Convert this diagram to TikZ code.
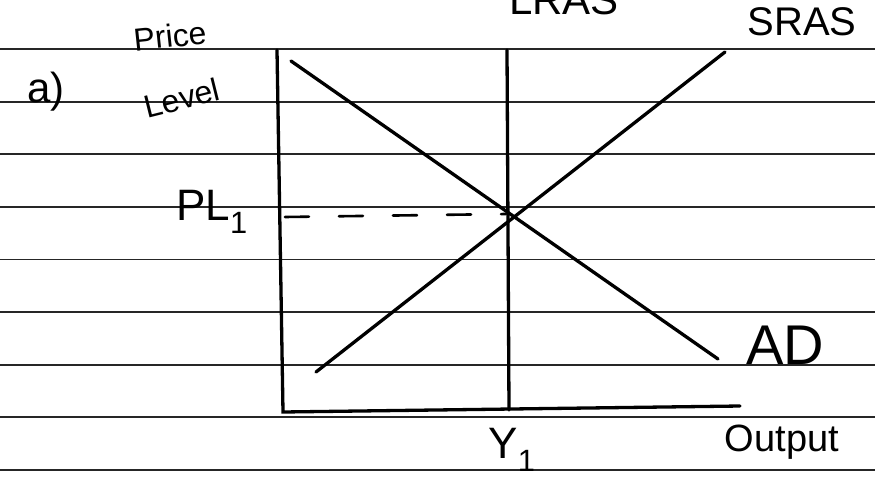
\documentclass[tikz,border=0pt]{standalone}
\usepackage{fontspec}
\setmainfont{Liberation Sans}
\begin{document}
\begin{tikzpicture}[x=1pt,y=-1pt,
  rule/.style={line width=1.8pt,black!85},
  pen/.style={line width=3.3pt,line cap=round,black},
  lbl/.style={inner sep=0pt,font=#1},
  lbl/.default=\fontsize{30}{30}\selectfont]
\useasboundingbox (0,0) rectangle (875,498);
\fill[white] (0,0) rectangle (875,498);
\clip (0,0) rectangle (875,498);
% ruled paper lines
\foreach \yy in {49,101.6,154.2,206.8,259.4,312,364.6,417.2,469.8}
  \draw[rule] (0,\yy) -- (875,\yy);
% named points
\coordinate (ytop) at (277,50);
\coordinate (origin) at (283,412);
\coordinate (xend) at (740,406);
\coordinate (lrastop) at (507,50);
\coordinate (lrasbot) at (509,410);
\coordinate (srasbot) at (316,372);
\coordinate (srastop) at (725,52);
\coordinate (adtop) at (291,61);
\coordinate (adbot) at (718,359);
\coordinate (pla) at (285,217);
\coordinate (plb) at (506,214);
% axes
\draw[pen] (ytop) -- (origin) -- (xend);
% LRAS
\draw[pen] (lrastop) -- (lrasbot);
% curves
\draw[pen] (srasbot) -- (srastop);
\draw[pen] (adtop) -- (adbot);
% dashed price level
\draw[pen,line width=2.6pt,dash pattern=on 24pt off 30pt] (pla) -- (plb);
% labels
\node[lbl={\fontsize{42}{42}\selectfont}] (a) at (46,92) {a)};
\node[lbl={\fontsize{32}{32}\selectfont},rotate=6] (price) at (170,36) {Price};
\node[lbl={\fontsize{32}{32}\selectfont},rotate=14] (level) at (182,98) {Level};
\node[lbl={\fontsize{44}{44}\selectfont}] (pl) at (212,212) {PL$_{\mathrm{1}}$};
\node[lbl={\fontsize{42}{42}\selectfont}] (lras) at (564,0) {LRAS};
\node[lbl={\fontsize{40}{40}\selectfont}] (sras) at (802,22) {SRAS};
\node[lbl={\fontsize{56}{56}\selectfont}] (ad) at (785,345) {AD};
\node[lbl={\fontsize{44}{44}\selectfont}] (y) at (512,450) {Y$_{\mathrm{1}}$};
\node[lbl={\fontsize{38}{38}\selectfont}] (out) at (782,442) {Output};
\end{tikzpicture}
\end{document}
